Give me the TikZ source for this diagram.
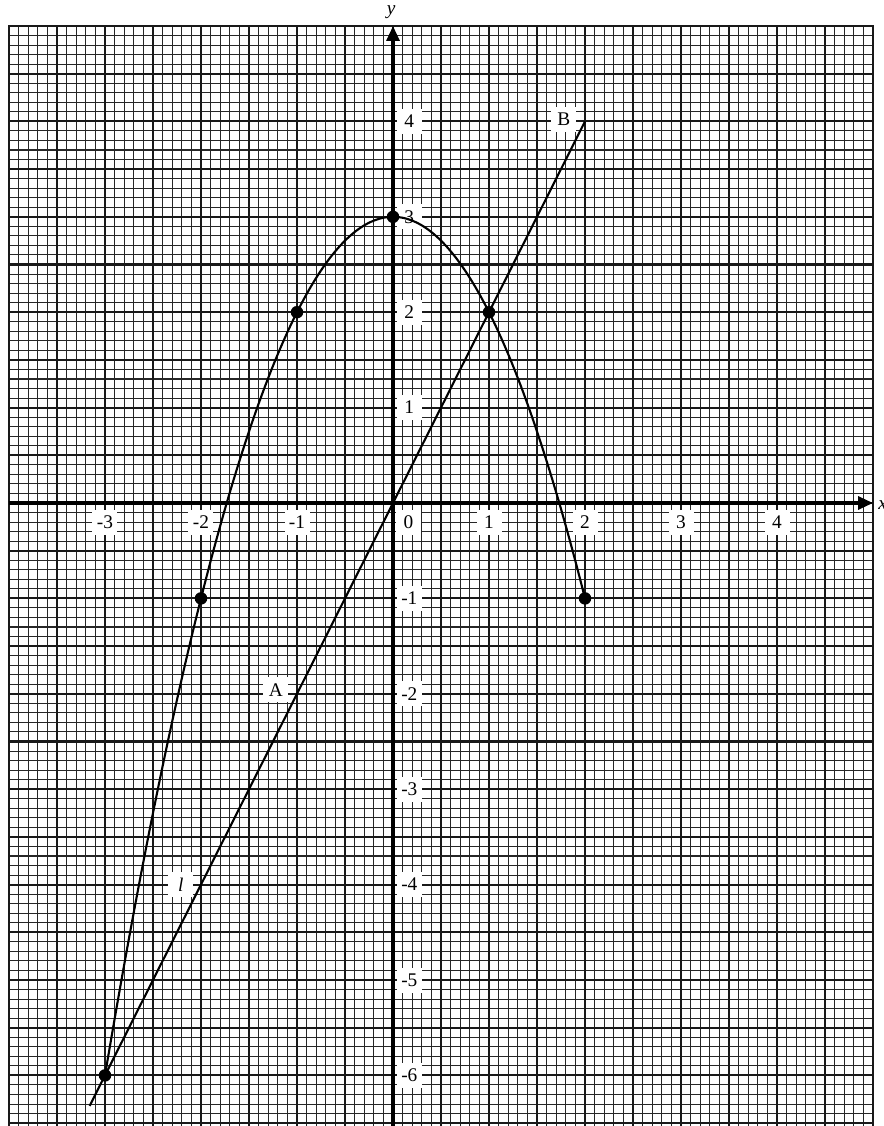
\documentclass[tikz,border=0pt]{standalone}
\usepackage{fontspec}
\setmainfont{Liberation Serif}
\usetikzlibrary{arrows.meta}
\tikzset{
  fineline/.style={black!85,line width=0.3pt},
  halfline/.style={black!90,line width=0.6pt},
  frameline/.style={black!90,line width=0.75pt},
  axisline/.style={black,line width=0.9pt,-{Triangle[length=1.5mm,width=1.3mm]}},
  plotline/.style={black,line width=0.6pt},
  ticklab/.style={fill=white,inner sep=0pt,minimum size=0.25cm,font=\fontsize{5.5}{6}\selectfont},
  axlab/.style={inner sep=0pt,font=\fontsize{5.5}{6}\selectfont\itshape},
  dot/.style={circle,fill=black,inner sep=0pt,minimum size=0.125cm}
}
\begin{document}
\begin{tikzpicture}[x=0.96cm,y=0.954cm]
\useasboundingbox (-4.09375,-6.5304) rectangle (5.1146,5.2725);
\clip (-4.09375,-6.5304) rectangle (5.1146,5.2725);
% fine grid
\foreach \i in {-40,...,50} \draw[fineline] (\i/10,-6.7) -- (\i/10,5);
\foreach \j in {-67,...,50} \draw[fineline] (-4,\j/10) -- (5,\j/10);
% half-unit grid
\foreach \i in {-8,...,10} \draw[halfline] (\i/2,-6.7) -- (\i/2,5);
\foreach \j in {-13,...,10} \draw[halfline] (-4,\j/2) -- (5,\j/2);
% frame
\draw[frameline] (-4,-6.7) -- (-4,5) -- (5,5) -- (5,-6.7);
% axes
\coordinate (xstart) at (-4,0);
\coordinate (xend) at (5,0);
\coordinate (ystart) at (0,-6.7);
\coordinate (yend) at (0,5);
\draw[axisline] (xstart) -- (xend);
\draw[axisline] (ystart) -- (yend);
\node[axlab] (ylab) at (-0.02,5.14) {y};
\node[axlab] (xlab) at (5.1,-0.02) {x};
% x tick labels
\node[ticklab] (xm3) at (-3,-0.2) {-3};
\node[ticklab] (xm2) at (-2,-0.2) {-2};
\node[ticklab] (xm1) at (-1,-0.2) {-1};
\node[ticklab] (x0) at (0.16,-0.2) {0};
\node[ticklab] (x1) at (1,-0.2) {1};
\node[ticklab] (x2) at (2,-0.2) {2};
\node[ticklab] (x3) at (3,-0.2) {3};
\node[ticklab] (x4) at (4,-0.2) {4};
% y tick labels
\node[ticklab] (y4) at (0.17,4) {4};
\node[ticklab] (y3) at (0.17,3) {3};
\node[ticklab] (y2) at (0.17,2) {2};
\node[ticklab] (y1) at (0.17,1) {1};
\node[ticklab] (ym1) at (0.17,-1) {-1};
\node[ticklab] (ym2) at (0.17,-2) {-2};
\node[ticklab] (ym3) at (0.17,-3) {-3};
\node[ticklab] (ym4) at (0.17,-4) {-4};
\node[ticklab] (ym5) at (0.17,-5) {-5};
\node[ticklab] (ym6) at (0.17,-6) {-6};
% line labels
\node[ticklab] (labB) at (1.78,4.02) {B};
\node[ticklab] (labA) at (-1.22,-1.96) {A};
\node[ticklab,font=\fontsize{5.5}{6}\selectfont\itshape] (labl) at (-2.21,-4.0) {l};
% curve y = 3 - x^2
\draw[plotline] plot[domain=-3:2,samples=120,smooth] (\x,{3-\x*\x});
% line l: y = 2x
\coordinate (lstart) at (-3.16,-6.32);
\coordinate (lend) at (2,4);
\draw[plotline] (lstart) -- (lend);
% points
\node[dot] (p1) at (-3,-6) {};
\node[dot] (p2) at (-2,-1) {};
\node[dot] (p3) at (-1,2) {};
\node[dot] (p4) at (0,3) {};
\node[dot] (p5) at (1,2) {};
\node[dot] (p6) at (2,-1) {};
\end{tikzpicture}
\end{document}
